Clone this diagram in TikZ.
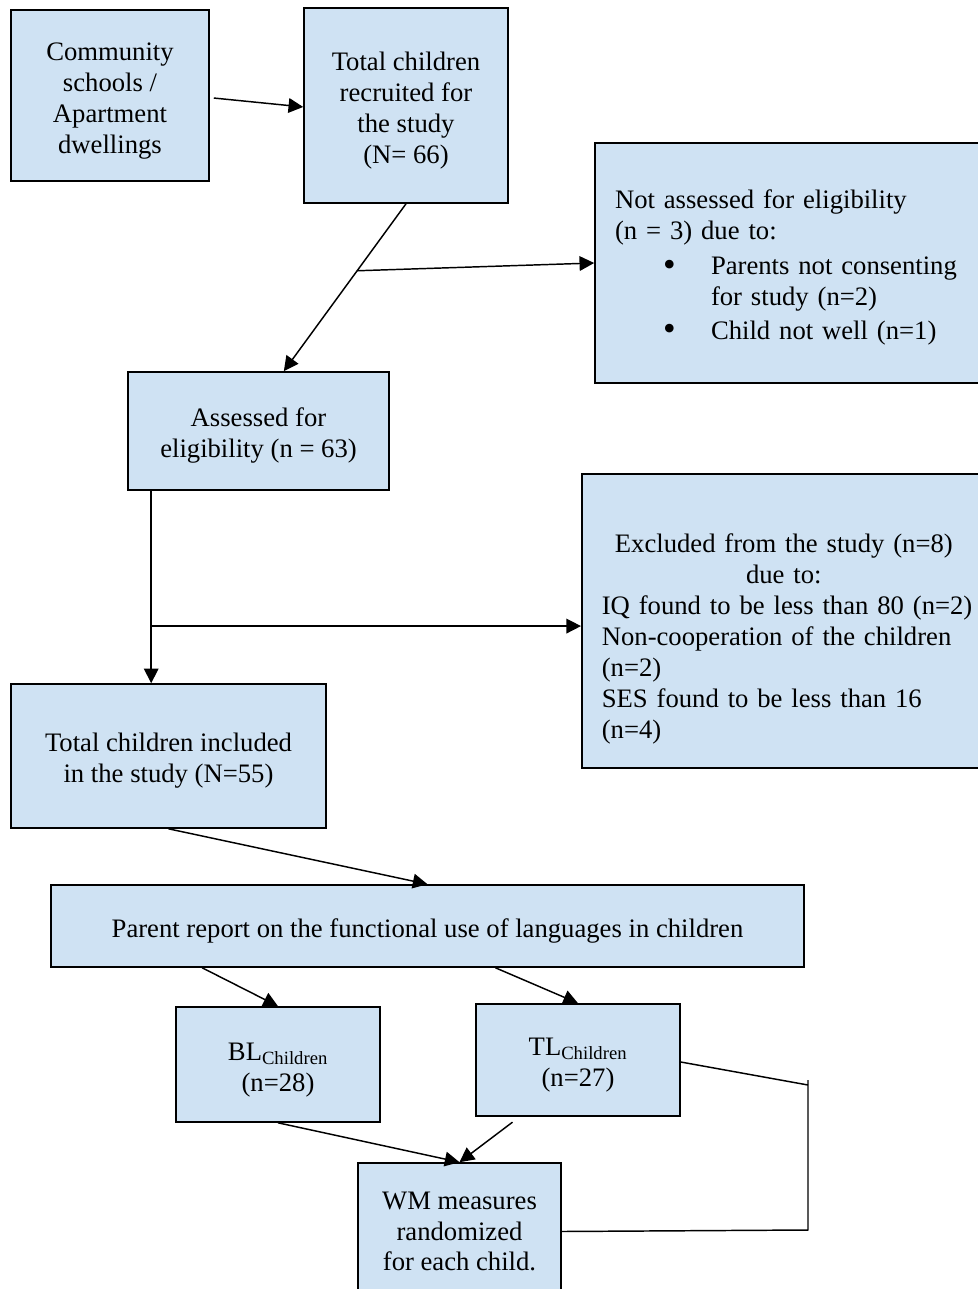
\documentclass[tikz,border=0pt]{standalone}
\usepackage{fontspec}
\setmainfont{Liberation Serif}
\usepackage{xcolor}
\usetikzlibrary{arrows.meta,calc,positioning}
\definecolor{boxblue}{RGB}{207,226,243}
\newcommand{\bigdot}{\raisebox{-1pt}[0.6ex][0pt]{\fontsize{27}{27}\selectfont\textbullet}}
\newcommand{\topstrut}{\rule{0pt}{21pt}}

\begin{document}
\begin{tikzpicture}[x=0.75pt,y=-0.75pt,>={Triangle[length=11pt,width=11pt]},
  box/.style={draw=black,line width=1.2pt,fill=boxblue,align=center,inner sep=0pt,
    font=\fontsize{20}{23.2}\selectfont},
  link/.style={line width=1.1pt,->},
  plain/.style={line width=1.1pt}]

\useasboundingbox (0,0) rectangle (978,1289);

% boxes
\node[box,minimum width=148.5pt,minimum height=128.25pt] (comm) at (110,95.5)
  {\topstrut Community\\schools /\\Apartment\\dwellings};
\node[box,minimum width=153pt,minimum height=146.25pt] (recr) at (406,105.5)
  {\topstrut Total children\\recruited for\\the study\\(N= 66)};
\node[box,align=left,text width=262.5pt,inner xsep=15pt,minimum height=180pt] (notel) at (790,263)
  {\topstrut Not assessed for eligibility\\
   (n = 3) due to:\\[3pt]
   \hspace*{36pt}\makebox[36pt][l]{\bigdot}Parents not consenting\\
   \hspace*{72pt}for study (n=2)\\[2pt]
   \hspace*{36pt}\makebox[36pt][l]{\bigdot}Child not well (n=1)};
\node[box,minimum width=195.75pt,minimum height=88.5pt] (elig) at (258.5,431)
  {\topstrut Assessed for\\eligibility (n = 63)};
\node[box,align=left,text width=280pt,inner xsep=15pt,minimum height=220.5pt] (excl) at (788.5,621)
  {\mbox{}\\[18pt]
   \makebox[273pt]{Excluded from the study (n=8)}\\
   \makebox[273pt]{due to:}\\
   IQ found to be less than 80 (n=2)\\
   Non-cooperation of the children\\
   (n=2)\\
   SES found to be less than 16\\
   (n=4)};
\node[box,minimum width=236.25pt,minimum height=108pt] (incl) at (168.5,756)
  {\topstrut Total children included\\in the study (N=55)};
\node[box,minimum width=564.75pt,minimum height=61.5pt] (parent) at (427.5,926)
  {\topstrut Parent report on the functional use of languages in children};
\node[box,minimum width=153pt,minimum height=86.25pt] (bl) at (278,1064.5)
  {\topstrut BL\textsubscript{Children}\\(n=28)};
\node[box,minimum width=153pt,minimum height=84pt] (tl) at (578,1060)
  {\topstrut TL\textsubscript{Children}\\(n=27)};
\node[box,minimum width=152.25pt,minimum height=102.75pt] (wm) at (459.5,1231.5)
  {WM measures\\randomized\\for each child.};

% connectors
\draw[link] ([xshift=3pt,yshift=-1.9pt]comm.east) -- ([yshift=-1.1pt]recr.west);
\coordinate (eltop) at ([xshift=19pt]elig.north);
\draw[link] (recr.south) -- (eltop);
\coordinate (brk) at ($(recr.south)!0.4!(eltop)$);
\draw[link] (brk) -- (notel.west);

\coordinate (eleg) at ([xshift=18pt]elig.south west);
\draw[link] (eleg) -- (eleg |- incl.north);
\coordinate (split) at ([yshift=-3.8pt]eleg |- excl.west);
\draw[link] (split) -- (split -| excl.west);

\draw[link] (incl.south) -- (parent.north);
\draw[link] ([xshift=114pt]parent.south west) -- (bl.north);
\draw[link] ([xshift=51pt]parent.south) -- (tl.north);
\draw[link] (bl.south) -- (wm.north);
\draw[link] ([xshift=28pt,yshift=-4pt]tl.south west) -- (wm.north);

% return line
\coordinate (lpa) at (808,1085);
\coordinate (lptop) at (808,1080);
\coordinate (lpbot) at (808,1230);
\draw[plain] ([yshift=-1.5pt]tl.east) -- (lpa);
\draw[plain] (lptop) -- (lpbot) -- (wm.east);

\end{tikzpicture}
\end{document}
